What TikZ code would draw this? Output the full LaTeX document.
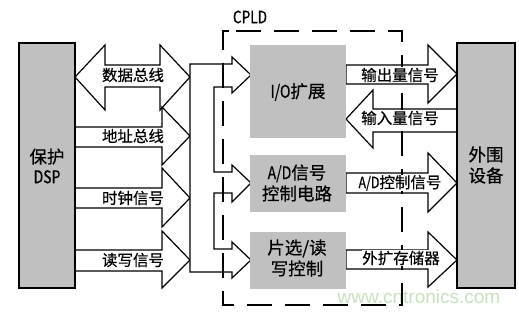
\documentclass[tikz,border=0pt]{standalone}
\usepackage{fontspec}
\setmainfont{Noto Sans CJK SC}[FakeBold=0.5]
\newfontfamily\nf{Noto Sans CJK SC}[FakeStretch=0.8,FakeBold=0.5]
\newfontfamily\wmfont{Liberation Sans}
\definecolor{boxgray}{RGB}{192,192,192}
\definecolor{wmgreen}{RGB}{200,224,190}
\begin{document}
\begin{tikzpicture}[x=1pt,y=-1pt,line join=miter,
  dev/.style={draw=black,line width=2pt,fill=boxgray,inner sep=0pt},
  blk/.style={fill=boxgray,inner sep=0pt,minimum width=96pt},
  barrow/.style={draw=black,fill=white,line width=1.2pt},
  lbl/.style={font=\fontsize{15.5}{17}\selectfont,inner sep=0.5pt},
  rlbl/.style={lbl,fill=white},
  blbl/.style={font=\fontsize{17.5}{21}\selectfont,align=center,inner sep=0pt},
  cpld/.style={draw=black,line width=1.2pt,dash pattern=on 25pt off 13pt}]
\useasboundingbox (0,0) rectangle (519,312);

% left bus arrows
\path[barrow] (75,77) -- (105,45) -- (105,65) -- (160,65) -- (160,45) -- (190,77)
  -- (160,110) -- (160,87) -- (105,87) -- (105,110) -- cycle;
\path[barrow] (75,127) -- (162,127) -- (162,107) -- (190,136) -- (162,165) -- (162,147) -- (75,147) -- cycle;
\path[barrow] (75,188) -- (162,188) -- (162,168) -- (190,198) -- (162,227) -- (162,208) -- (75,208) -- cycle;
\path[barrow] (75,250) -- (162,250) -- (162,231) -- (190,260) -- (162,288) -- (162,271) -- (75,271) -- cycle;

% internal distribution bus
\path[barrow] (190,64) -- (232,64) -- (232,57) -- (251,75) -- (232,93) -- (232,87) -- (214,87)
  -- (214,172) -- (232,172) -- (232,165) -- (251,183) -- (232,202) -- (232,193) -- (214,193)
  -- (214,249) -- (232,249) -- (232,242) -- (251,260) -- (232,278) -- (232,272) -- (190,272) -- cycle;

% right arrows
\path[barrow] (346,65) -- (428,65) -- (428,45) -- (457,74) -- (428,103) -- (428,84) -- (346,84) -- cycle;
\path[barrow] (457,109) -- (373,109) -- (373,90) -- (346,119) -- (373,148) -- (373,132) -- (457,132) -- cycle;
\path[barrow] (346,173) -- (428,173) -- (428,153) -- (457,183) -- (428,212) -- (428,193) -- (346,193) -- cycle;
\path[barrow] (346,250) -- (428,250) -- (428,232) -- (457,260) -- (428,287) -- (428,269) -- (346,269) -- cycle;

% boxes
\node[dev,minimum width=56pt,minimum height=245pt] (dsp) at (47,165.5) {};
\node[dev,minimum width=58pt,minimum height=245pt] (ext) at (486,165.5) {};
\node[blk,minimum height=93pt] (io) at (298,91.5) {};
\node[blk,minimum height=57pt] (ad) at (298,183.5) {};
\node[blk,minimum height=57pt] (cs) at (298,260.5) {};

% watermark
\node[font=\wmfont\fontsize{19}{19}\selectfont,text=wmgreen,inner sep=0pt] (wm) at (419,297) {www.cntronics.com};

% CPLD border
\draw[cpld] (236,31) -- (402,31) -- (402,305) -- (223,305) -- (223,31) -- (236,31);
\node[font=\nf\fontsize{17}{17}\selectfont,inner sep=0pt] (cpldlbl) at (250,17) {CPLD};

% texts
\node[blbl] (dspt) at (47,166) {保护\\[-1pt]{\nf DSP}};
\node[blbl] (extt) at (486,165) {外围\\设备};
\node[blbl] (iot) at (298,92) {{\nf I/O}扩展};
\node[blbl] (adt) at (297,183) {{\nf A/D}信号\\控制电路};
\node[blbl] (cst) at (297,258) {片选/读\\写控制};

\node[lbl] (l1) at (133,75) {数据总线};
\node[lbl] (l2) at (133,136) {地址总线};
\node[lbl] (l3) at (133,198) {时钟信号};
\node[lbl] (l4) at (133,260) {读写信号};
\node[rlbl] (r1) at (400,75) {输出量信号};
\node[rlbl] (r2) at (400,118) {输入量信号};
\node[rlbl] (r3) at (400,183) {{\nf A/D}控制信号};
\node[rlbl] (r4) at (401,258) {外扩存储器};
\end{tikzpicture}
\end{document}
